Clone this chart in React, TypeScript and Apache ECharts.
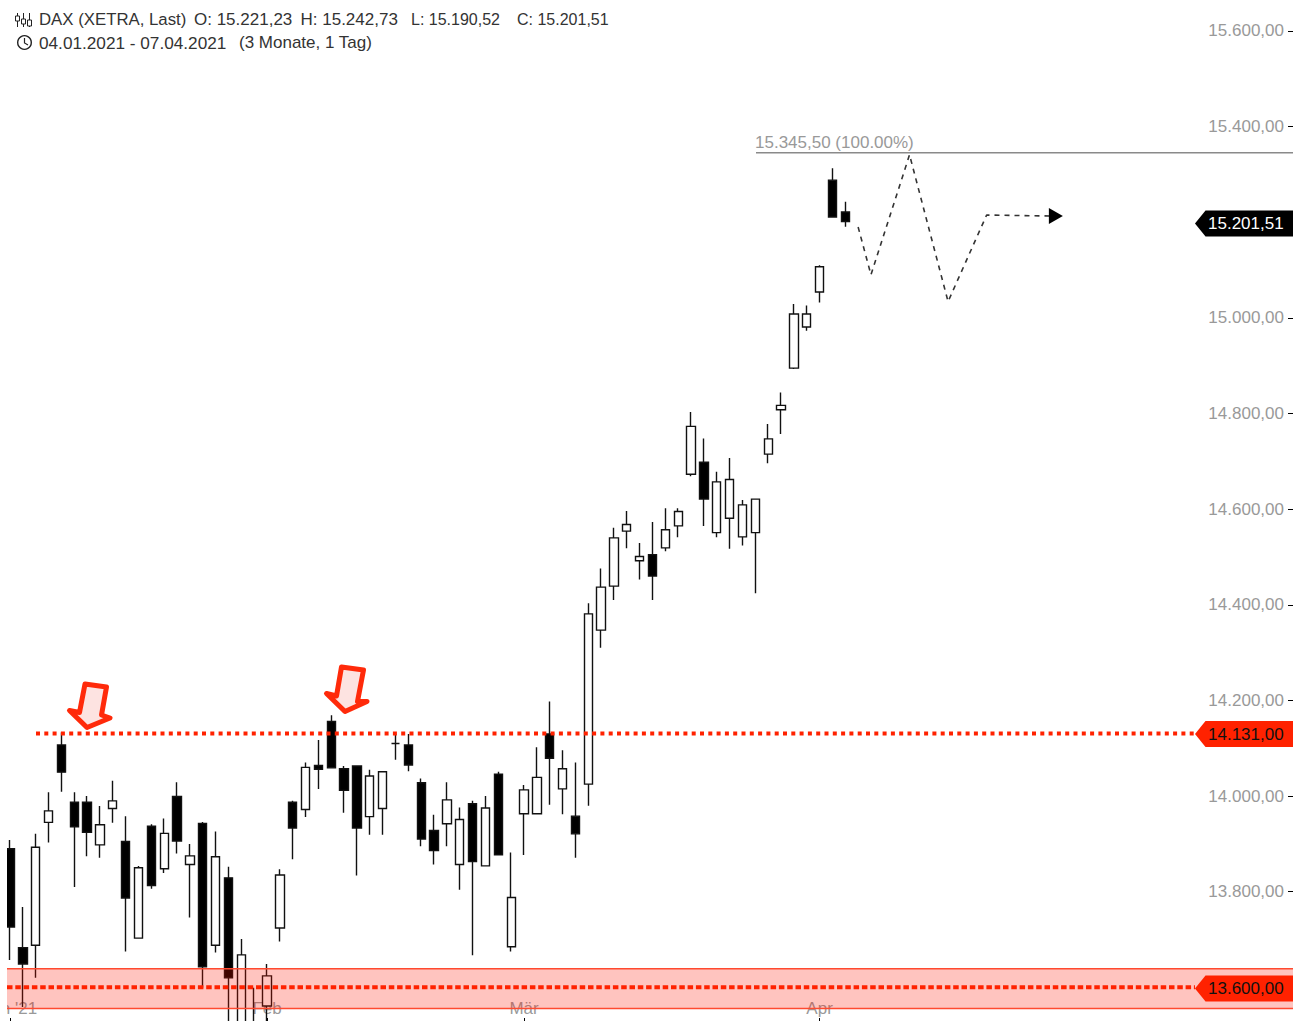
import React, { useEffect, useRef } from "react";
import * as echarts from "echarts";

const dates = [
  "04.01.", "05.01.", "06.01.", "07.01.", "08.01.", "11.01.", "12.01.", "13.01.", "14.01.", "15.01.",
  "18.01.", "19.01.", "20.01.", "21.01.", "22.01.", "25.01.", "26.01.", "27.01.", "28.01.", "29.01.",
  "01.02.", "02.02.", "03.02.", "04.02.", "05.02.", "08.02.", "09.02.", "10.02.", "11.02.", "12.02.",
  "15.02.", "16.02.", "17.02.", "18.02.", "19.02.", "22.02.", "23.02.", "24.02.", "25.02.", "26.02.",
  "01.03.", "02.03.", "03.03.", "04.03.", "05.03.", "08.03.", "09.03.", "10.03.", "11.03.", "12.03.",
  "15.03.", "16.03.", "17.03.", "18.03.", "19.03.", "22.03.", "23.03.", "24.03.", "25.03.", "26.03.",
  "29.03.", "30.03.", "31.03.", "01.04.", "06.04.", "07.04.",
];
const opens = [
  13890, 13683, 13688, 13945, 14107, 13987, 13987, 13898, 13974, 13905,
  13703, 13937, 13848, 13999, 13857, 13943, 13688, 13829, 13420, 13500,
  13561, 13724, 13987, 13972, 14064, 14156, 14057, 14063, 13957, 13974,
  14110, 14107, 14028, 13928, 13942, 13857, 13984, 13854, 14046, 13685,
  13963, 13963, 14130, 14015, 13958, 14025, 14347, 14439, 14554, 14492,
  14505, 14519, 14565, 14673, 14698, 14551, 14581, 14542, 14551, 14715,
  14808, 14895, 14981, 15054, 15288, 15221.23,
];
const closes = [
  13726, 13649, 13893, 13969, 14050, 13936, 13924, 13940, 13990, 13787,
  13850, 13813, 13922, 13906, 13875, 13643, 13873, 13620, 13668, 13450,
  13624, 13835, 13933, 14060, 14056, 14059, 14012, 13933, 14042, 14051,
  14110, 14065, 13910, 13886, 13992, 13951, 13863, 13975, 13877, 13788,
  14013, 14039, 14079, 14057, 13921, 14381, 14437, 14540, 14568, 14501,
  14460, 14557, 14595, 14773, 14621, 14657, 14662, 14609, 14621, 14747,
  14817, 15008, 15008, 15107, 15211, 15201.51,
];
const lows = [
  13657, 13559, 13620, 13903, 14009, 13810, 13874, 13871, 13944, 13675,
  13703, 13806, 13839, 13880, 13746, 13599, 13673, 13480, 13400, 13420,
  13510, 13696, 13868, 13956, 14015, 14059, 13965, 13834, 13919, 13919,
  14076, 14052, 13895, 13857, 13895, 13804, 13667, 13854, 13877, 13675,
  13877, 13963, 13982, 13962, 13871, 13980, 14310, 14410, 14518, 14453,
  14410, 14512, 14541, 14669, 14565, 14541, 14517, 14524, 14424, 14696,
  14757, 14893, 14973, 15032, 15211, 15190.52,
];
const highs = [
  13908, 13768, 13921, 14008, 14133, 14008, 14000, 13979, 14032, 13958,
  13854, 13941, 13953, 14029, 13900, 13946, 13926, 13852, 13701, 13599,
  13649, 13847, 13990, 14070, 14117, 14169, 14063, 14063, 14055, 14051,
  14130, 14130, 14037, 13961, 14029, 13976, 13990, 14000, 14051, 13882,
  14023, 14102, 14198, 14096, 14070, 14403, 14476, 14561, 14596, 14529,
  14573, 14602, 14602, 14803, 14748, 14678, 14707, 14619, 14621, 14778,
  14844, 15029, 15026, 15110, 15313, 15242.73,
];
const futureSlots = 35;
const monthLabels: Record<number, string> = { 0: "Jan '21", 20: "Feb", 40: "Mär", 63: "Apr" };
const hiddenTicks = [13400, 13600, 15200, 15800];
const forecast: [number, number][] = [
  [66, 15190], [67, 15090], [70, 15341], [73, 15034], [76, 15215], [81, 15213],
];
const resistance = 14131;
const support = 13600;
const bandHigh = 13639;
const bandLow = 13556;
const target = 15345.5;
const lastClose = 15201.51;
const headerRow1 = [
  { t: "DAX (XETRA, Last)", x: 39, s: 16.8 },
  { t: "O: 15.221,23", x: 194, s: 17 },
  { t: "H: 15.242,73", x: 300.5, s: 17 },
  { t: "L: 15.190,52", x: 411, s: 16 },
  { t: "C: 15.201,51", x: 517, s: 16 },
];
const headerRow2 = [
  { t: "04.01.2021 - 07.04.2021", x: 39, s: 17.2 },
  { t: "(3 Monate, 1 Tag)", x: 239, s: 17 },
];

const FONT = "'Liberation Sans', Arial, sans-serif";
const RED = "#ff2200";

function fmt(v: number) {
  return v.toLocaleString("de-DE", { minimumFractionDigits: 2, maximumFractionDigits: 2 });
}

export default function App() {
  const ref = useRef<HTMLDivElement>(null);
  useEffect(() => {
    document.body.style.margin = "0";
    const chart = echarts.init(ref.current!, undefined, { renderer: "svg" });
    const categories = [...dates, ...Array.from({ length: futureSlots }, (_, i) => `+${i + 1}`)];
    const candles = dates.map((_, i) => [opens[i], closes[i], lows[i], highs[i]]);
    chart.setOption({
      animation: false,
      backgroundColor: "#ffffff",
      textStyle: { fontFamily: FONT },
      grid: { left: 3.6, right: 2.55, top: -64.7, height: 1147.7, containLabel: false, outerBoundsMode: "none" },
      xAxis: {
        type: "category",
        data: categories,
        boundaryGap: true,
        position: "bottom",
        offset: -62,
        axisLine: { show: false },
        axisTick: {
          show: true,
          inside: true,
          length: 3,
          alignWithLabel: true,
          interval: (i: number) => i in monthLabels,
          lineStyle: { color: "#000", width: 1 },
        },
        axisLabel: {
          show: true,
          inside: true,
          margin: 4,
          interval: (i: number) => i in monthLabels,
          formatter: (_: string, i: number) => monthLabels[i] ?? "",
          color: "#999999",
          fontSize: 17,
          fontFamily: FONT,
          hideOverlap: false,
        },
        splitLine: { show: false },
      },
      yAxis: {
        type: "value",
        position: "right",
        offset: -8.45,
        min: 13400,
        max: 15800,
        interval: 200,
        scale: true,
        axisLine: { show: false },
        axisTick: { show: true, inside: true, length: 5, lineStyle: { color: "#000", width: 1 } },
        axisLabel: {
          inside: true,
          margin: 9,
          align: "right",
          color: "#999999",
          fontSize: 17,
          fontFamily: FONT,
          formatter: (v: number) => (hiddenTicks.includes(v) ? "" : fmt(v)),
        },
        splitLine: { show: false },
      },
      series: [
        {
          type: "candlestick",
          data: candles,
          barWidth: 8.8,
          itemStyle: {
            color: "#ffffff",
            color0: "#000000",
            borderColor: "#111111",
            borderColor0: "#111111",
            borderColorDoji: "#111111",
            borderWidth: 1.4,
          },
        },
        {
          type: "line",
          data: forecast.map((p, i) =>
            i === forecast.length - 1
              ? {
                  value: p,
                  symbol: "triangle",
                  symbolSize: [16, 14],
                  symbolRotate: -90,
                  symbolOffset: [5, 0],
                  itemStyle: { color: "#000" },
                }
              : { value: p, symbol: "none" },
          ),
          showSymbol: true,
          showAllSymbol: true,
          lineStyle: { color: "#333333", width: 1.6, type: [5, 5] },
          z: 3,
        },
      ],
    });

    const y = (v: number) => chart.convertToPixel({ yAxisIndex: 0 }, v) as number;
    const R = 1293;
    const priceTag = (fill: string, color: string, text: string, cy: number) => [
      {
        type: "polygon",
        z: 60,
        shape: {
          points: [[1195, cy], [1205.5, cy - 13], [R, cy - 13], [R, cy + 13], [1205.5, cy + 13]],
        },
        style: { fill },
      },
      {
        type: "text",
        z: 61,
        x: 1208,
        y: cy,
        style: { text, fill: color, font: `17px ${FONT}`, verticalAlign: "middle" },
      },
    ];
    const arrow = (points: number[][]) => ({
      type: "polygon",
      z: 55,
      shape: { points },
      style: { fill: "#fde3e1", stroke: "#ff2a0a", lineWidth: 5, lineJoin: "round" },
    });
    const txt = (t: string, x: number, cy: number, s: number) => ({
      type: "text",
      z: 70,
      x,
      y: cy,
      style: { text: t, fill: "#333333", font: `${s}px ${FONT}`, verticalAlign: "middle" },
    });
    const icoLine = (x: number, a: number, b: number) => ({
      type: "line",
      z: 70,
      shape: { x1: x, y1: a, x2: x, y2: b },
      style: { stroke: "#222", lineWidth: 1 },
    });
    const icoBox = (x: number, a: number, h: number) => ({
      type: "rect",
      z: 71,
      shape: { x: x - 2, y: a, width: 4, height: h },
      style: { fill: "#fff", stroke: "#222", lineWidth: 1 },
    });

    chart.setOption({
      graphic: [
        // left margin: the plot starts at x = 7; right margin starts at x = 1293
        { type: "rect", z: 40, shape: { x: 0, y: 0, width: 7, height: 1021 }, style: { fill: "#fff" } },
        // support zone
        {
          type: "rect",
          z: 50,
          shape: { x: 7, y: y(bandHigh), width: R - 7, height: y(bandLow) - y(bandHigh) },
          style: { fill: "rgba(255,20,0,0.25)" },
        },
        {
          type: "line",
          z: 50,
          shape: { x1: 7, y1: y(bandHigh), x2: R, y2: y(bandHigh) },
          style: { stroke: "#ff4a30", lineWidth: 1.5 },
        },
        {
          type: "line",
          z: 50,
          shape: { x1: 7, y1: y(bandLow), x2: R, y2: y(bandLow) },
          style: { stroke: "#ff4a30", lineWidth: 1.5 },
        },
        {
          type: "line",
          z: 51,
          shape: { x1: 7, y1: y(support), x2: 1195, y2: y(support) },
          style: { stroke: RED, lineWidth: 4, lineDash: [5.5, 2.8] },
        },
        {
          type: "line",
          z: 51,
          shape: { x1: 36, y1: y(resistance), x2: 1195, y2: y(resistance) },
          style: { stroke: RED, lineWidth: 4, lineDash: [4, 4.3] },
        },
        // 100 % target
        {
          type: "line",
          z: 51,
          shape: { x1: 756, y1: y(target), x2: R, y2: y(target) },
          style: { stroke: "#8a8a8a", lineWidth: 1.5 },
        },
        {
          type: "text",
          z: 52,
          x: 755,
          y: y(target) - 10.5,
          style: { text: `${fmt(target)} (100.00%)`, fill: "#999999", font: `17px ${FONT}`, verticalAlign: "middle" },
        },
        arrow([[85, 684], [106.5, 687], [101.5, 715], [110, 718], [87, 727.5], [69.5, 710.5], [79.5, 712.5]]),
        arrow([[341.5, 667], [363.5, 670], [357.5, 701.5], [367, 701.5], [345, 711.5], [326.5, 693.5], [336.5, 696]]),
        ...priceTag("#000000", "#ffffff", fmt(lastClose), 223.5),
        ...priceTag(RED, "#111111", fmt(resistance), 734),
        ...priceTag(RED, "#111111", fmt(support), 988.5),
        // header
        ...headerRow1.map((h) => txt(h.t, h.x, 19.5, h.s)),
        ...headerRow2.map((h) => txt(h.t, h.x, 42.5, h.s)),
        icoLine(17.5, 13, 27),
        icoBox(17.5, 16, 5),
        icoLine(23.5, 13, 27),
        icoBox(23.5, 19, 5),
        icoLine(29.5, 13, 27),
        icoBox(29.5, 20, 6),
        {
          type: "circle",
          z: 70,
          shape: { cx: 24.5, cy: 42.5, r: 6.8 },
          style: { fill: "none", stroke: "#222", lineWidth: 1.4 },
        },
        {
          type: "polyline",
          z: 70,
          shape: { points: [[24.5, 38], [24.5, 43], [28, 45]] },
          style: { fill: "none", stroke: "#222", lineWidth: 1.2 },
        },
      ],
    });
    return () => chart.dispose();
  }, []);
  return <div ref={ref} style={{ position: "absolute", left: 0, top: 0, width: 1304, height: 1021 }} />;
}
